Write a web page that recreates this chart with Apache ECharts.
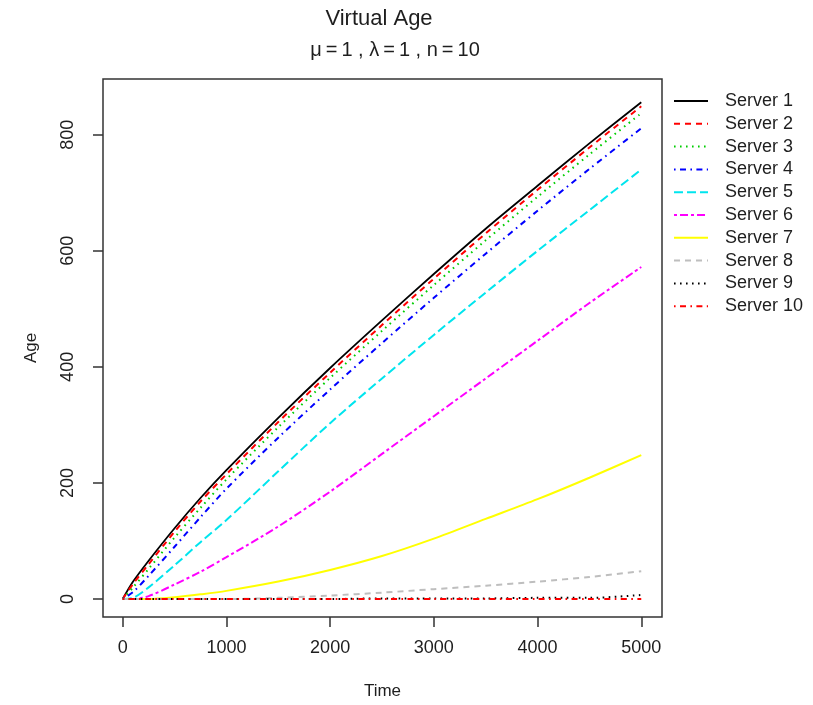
<!DOCTYPE html>
<html>
<head>
<meta charset="utf-8">
<script src="https://cdn.jsdelivr.net/npm/echarts@6/dist/echarts.min.js"></script>
<style>html,body{margin:0;padding:0;background:#fff;}#c{width:813px;height:705px;}</style>
</head>
<body>
<div id="c"></div>
<script>
const times = [0, 100, 250, 500, 750, 1000, 1500, 2000, 2500, 3000, 3500, 4000, 4500, 5000];
const server1 = [0, 30, 66, 122, 174, 222, 312, 398, 480, 560, 638, 712, 785, 856];
const server2 = [0, 26, 60, 116, 168, 215, 305, 390, 472, 552, 630, 705, 778, 849];
const server3 = [0, 20, 52, 106, 157, 206, 296, 381, 462, 541, 618, 693, 766, 837];
const server4 = [0, 12, 40, 90, 141, 190, 278, 361, 441, 519, 595, 669, 741, 811];
const server5 = [0, 2, 20, 58, 98, 136, 220, 303, 380, 455, 528, 600, 670, 740];
const server6 = [0, 0, 5, 25, 47, 72, 125, 185, 250, 315, 380, 445, 510, 572];
const server7 = [0, 0, 0, 3, 8, 14, 30, 50, 74, 104, 138, 172, 209, 248];
const server8 = [0, 0, 0, 0, 0, 0, 2, 6, 11, 17, 23, 30, 38, 48];
const server9 = [0, 0, 0, 0, 0, 0, 0, 0, 1, 1, 1, 2, 2, 7];
const server10 = [0, 0, 0, 0, 0, 0, 0, 0, 0, 0, 0, 0, 0, 0];
const seriesNames = ['Server 1','Server 2','Server 3','Server 4','Server 5','Server 6','Server 7','Server 8','Server 9','Server 10'];
const xTicks = [0, 1000, 2000, 3000, 4000, 5000];
const yTicks = [0, 200, 400, 600, 800];

const allValues = [server1, server2, server3, server4, server5, server6, server7, server8, server9, server10];
const colors = ['#000000','#ff0000','#00cd00','#0000ff','#00e5ee','#ff00ff','#ffff00','#bebebe','#000000','#ff0000'];
const dashes = ['solid',[6,5],[1.6,4.4],[1.6,4.4,6,4.4],[9,4],[3,3,8,3],'solid',[6,5],[1.6,4.4],[1.6,4.4,6,4.4]];
const FONT = 'Liberation Sans, Arial, sans-serif';
const TXT = '#1e1e1e';

const chart = echarts.init(document.getElementById('c'), null, {renderer: 'canvas'});
const series = allValues.map((vals, i) => ({
  name: seriesNames[i],
  type: 'line',
  data: times.map((t, j) => [t, vals[j]]),
  symbol: 'none',
  smooth: 0.3,
  animation: false,
  lineStyle: {color: colors[i], width: (i === 0 ? 1.8 : 2), type: dashes[i]},
  itemStyle: {color: colors[i]}
}));

chart.setOption({
  animation: false,
  backgroundColor: '#fff',
  grid: {left: 103, top: 79, width: 559, height: 538, show: true, borderColor: '#333', borderWidth: 1.5, backgroundColor: 'transparent'},
  xAxis: {
    type: 'value', min: -190, max: 5200,
    name: 'Time', nameLocation: 'middle', nameGap: 66,
    nameTextStyle: {fontFamily: FONT, fontSize: 17, color: TXT},
    axisLine: {show: false, onZero: false},
    splitLine: {show: false},
    axisTick: {show: true, length: 10, lineStyle: {color: '#333', width: 1.5}, customValues: xTicks},
    axisLabel: {fontFamily: FONT, fontSize: 18, color: TXT, margin: 22, customValues: xTicks, formatter: v => String(v)}
  },
  yAxis: {
    type: 'value', min: -31, max: 896,
    name: 'Age', nameLocation: 'middle', nameGap: 63, nameRotate: 90,
    nameTextStyle: {fontFamily: FONT, fontSize: 17, color: TXT},
    axisLine: {show: false, onZero: false},
    splitLine: {show: false},
    axisTick: {show: true, length: 10, lineStyle: {color: '#333', width: 1.5}, customValues: yTicks},
    axisLabel: {fontFamily: FONT, fontSize: 18, color: TXT, margin: 26, rotate: 90, customValues: yTicks, formatter: v => String(v)}
  },
  legend: {
    orient: 'vertical', left: 673, top: 92, padding: 0,
    itemWidth: 34, itemHeight: 14, itemGap: 4.8,
    itemStyle: {opacity: 0},
    textStyle: {fontFamily: FONT, fontSize: 18, color: TXT, lineHeight: 14, padding: [0, 0, 0, 12]},
    data: seriesNames
  },
  graphic: [
    {type: 'text', x: 379, y: 19, style: {text: 'Virtual Age', fontFamily: FONT, fontSize: 22, fill: TXT, textAlign: 'center', textVerticalAlign: 'middle'}},
    {type: 'text', x: 395, y: 50, style: {text: 'μ\u2009=\u20091 , λ\u2009=\u20091 , n\u2009=\u200910', fontFamily: FONT, fontSize: 20, fill: TXT, textAlign: 'center', textVerticalAlign: 'middle'}}
  ],
  series: series
});
</script>
</body>
</html>
